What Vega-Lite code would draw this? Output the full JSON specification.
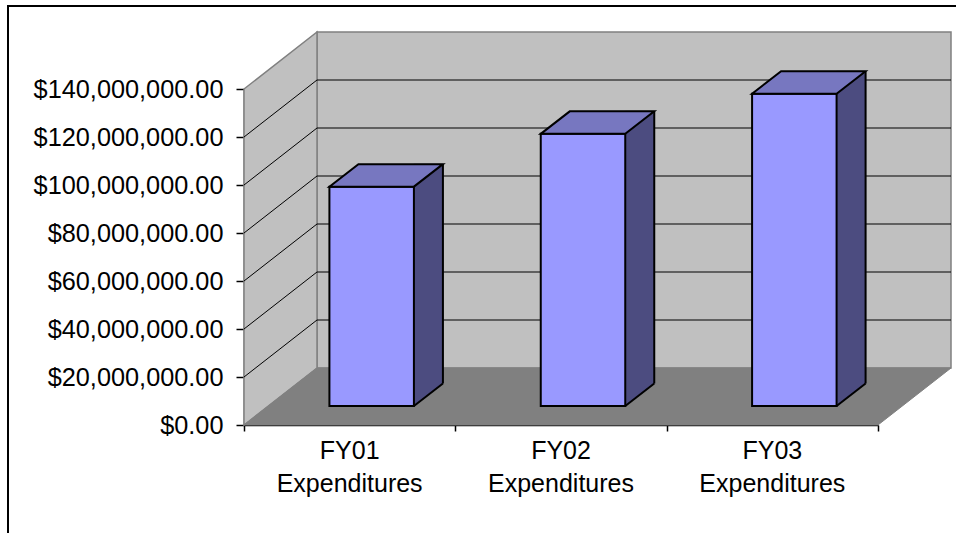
{
  "$schema": "https://vega.github.io/schema/vega-lite/v6.json",
  "width": 634,
  "height": 336,
  "autosize": {"type": "none"},
  "padding": {"left": 244, "top": 89, "right": 78, "bottom": 108},
  "background": "white",
  "config": {
    "font": "Liberation Sans",
    "view": {"stroke": null},
    "axis": {"grid": false, "zindex": 1, "domainColor": "black", "tickColor": "black", "domainWidth": 1.5, "tickWidth": 1.5, "labelColor": "black"},
    "axisY": {"format": "$,.2f", "labelFontSize": 25.3, "labelFont": "Liberation Sans", "labelLimit": 0, "tickSize": 8, "labelPadding": 13, "tickCount": 8},
    "axisX": {"labels": false, "tickSize": 6, "tickCount": 3}
  },
  "datasets": {
    "bars": [
      {"category": "FY01 Expenditures", "expenditure": 91400000},
      {"category": "FY02 Expenditures", "expenditure": 113400000},
      {"category": "FY03 Expenditures", "expenditure": 130100000}
    ],
    "gridlines": [
      {"tick": 20000000}, {"tick": 40000000}, {"tick": 60000000},
      {"tick": 80000000}, {"tick": 100000000}, {"tick": 120000000}
    ]
  },
  "resolve": {"scale": {"x": "independent"}},
  "layer": [
    {
      "layer": [
        {
          "data": {"values": [{}]},
          "mark": {"type": "rect", "filled": false, "fill": null, "stroke": "black", "strokeWidth": 2, "xOffset": -236, "x2Offset": 90, "yOffset": -83, "y2Offset": 120},
          "encoding": {
            "x": {"datum": 0, "type": "quantitative", "title": null, "scale": {"domain": [0, 3], "nice": false, "zero": false}},
            "x2": {"datum": 3},
            "y": {"datum": 140000000, "type": "quantitative", "title": null, "scale": {"domain": [0, 140000000], "nice": false}},
            "y2": {"datum": 0}
          }
        },
        {
          "data": {"values": [{}]},
          "mark": {"type": "rect", "fill": "#C0C0C0", "stroke": "#808080", "strokeWidth": 1.5, "xOffset": 73, "x2Offset": 73, "yOffset": -57, "y2Offset": -57},
          "encoding": {
            "x": {"datum": 0, "type": "quantitative", "title": null},
            "x2": {"datum": 3},
            "y": {"datum": 140000000, "type": "quantitative", "title": null},
            "y2": {"datum": 0}
          }
        },
        {
          "data": {"values": [{}]},
          "mark": {"type": "point", "shape": "M -0.18575 -0.70992 L 0.18575 -1 L 0.18575 0.70992 L -0.18575 1 Z", "size": 154449, "filled": true, "fill": "#C0C0C0", "stroke": "#808080", "strokeWidth": 1.5, "opacity": 1, "xOffset": 36.5, "yOffset": -28.5},
          "encoding": {
            "x": {"datum": 0, "type": "quantitative", "title": null},
            "y": {"datum": 70000000, "type": "quantitative", "title": null}
          }
        },
        {
          "data": {"values": [{}]},
          "mark": {"type": "point", "shape": "M -1 0.08062 L 0.79349 0.08062 L 1 -0.08062 L -0.79349 -0.08062 Z", "size": 499849, "filled": true, "fill": "#808080", "stroke": "#808080", "strokeWidth": 1, "opacity": 1, "xOffset": 36.5, "yOffset": -28.5},
          "encoding": {
            "x": {"datum": 1.5, "type": "quantitative", "title": null},
            "y": {"datum": 0, "type": "quantitative", "title": null}
          }
        },
        {
          "data": {"name": "gridlines"},
          "mark": {"type": "rule", "stroke": "black", "strokeWidth": 1, "x2Offset": 73, "y2Offset": -57},
          "encoding": {
            "x": {"datum": 0, "type": "quantitative", "title": null},
            "x2": {"datum": 0},
            "y": {"field": "tick", "type": "quantitative", "title": null},
            "y2": {"field": "tick"}
          }
        },
        {
          "data": {"name": "gridlines"},
          "mark": {"type": "rule", "stroke": "black", "strokeWidth": 1, "xOffset": 73, "x2Offset": 73, "yOffset": -57},
          "encoding": {
            "x": {"datum": 0, "type": "quantitative", "title": null},
            "x2": {"datum": 3},
            "y": {"field": "tick", "type": "quantitative", "title": null}
          }
        }
      ]
    },
    {
      "data": {"name": "bars"},
      "encoding": {
        "x": {"field": "category", "type": "nominal", "axis": null, "sort": null, "scale": {"paddingInner": 0, "paddingOuter": 0}}
      },
      "layer": [
        {
          "mark": {"type": "bar", "width": 29, "fill": "#4C4C80", "stroke": "#4C4C80", "strokeWidth": 0.5, "xOffset": 78.75, "yOffset": -41.5, "y2Offset": -41.5},
          "encoding": {
            "y": {"field": "expenditure", "type": "quantitative", "title": null},
            "y2": {"datum": 0}
          }
        },
        {
          "mark": {"type": "point", "shape": "M -1 -0.77586 L 1 -0.77586 L -1 0.77586 Z", "size": 841, "filled": true, "fill": "#4C4C80", "stroke": "#4C4C80", "strokeWidth": 1, "opacity": 1, "xOffset": 78.75, "yOffset": -30.25},
          "encoding": {
            "y": {"datum": 0, "type": "quantitative", "title": null}
          }
        },
        {
          "mark": {"type": "point", "shape": "M -1 0.77586 L 1 -0.77586", "size": 841, "filled": false, "stroke": "black", "strokeWidth": 2, "opacity": 1, "xOffset": 78.75, "yOffset": -30.25},
          "encoding": {
            "y": {"datum": 0, "type": "quantitative", "title": null}
          }
        },
        {
          "mark": {"type": "rule", "stroke": "black", "strokeWidth": 2, "xOffset": 93.25, "yOffset": -41.5, "y2Offset": -41.5},
          "encoding": {
            "y": {"field": "expenditure", "type": "quantitative", "title": null},
            "y2": {"datum": 0}
          }
        },
        {
          "mark": {"type": "bar", "width": 84.5, "fill": "#9999FF", "stroke": "black", "strokeWidth": 2, "xOffset": 22, "yOffset": -19, "y2Offset": -19},
          "encoding": {
            "y": {"field": "expenditure", "type": "quantitative", "title": null},
            "y2": {"datum": 0}
          }
        },
        {
          "mark": {"type": "point", "shape": "M -1 0.19824 L 0.48899 0.19824 L 1 -0.19824 L -0.48899 -0.19824 Z", "size": 12882, "filled": true, "fill": "#7777C0", "stroke": "black", "strokeWidth": 2, "opacity": 1, "xOffset": 36.5, "yOffset": -30.25},
          "encoding": {
            "y": {"field": "expenditure", "type": "quantitative", "title": null}
          }
        },
        {
          "mark": {"type": "text", "fontSize": 25, "font": "Liberation Sans", "color": "black", "baseline": "top", "align": "center", "dy": 14, "lineHeight": 33, "lineBreak": " "},
          "encoding": {
            "y": {"datum": 0, "type": "quantitative", "title": null},
            "text": {"field": "category"}
          }
        }
      ]
    }
  ]
}
